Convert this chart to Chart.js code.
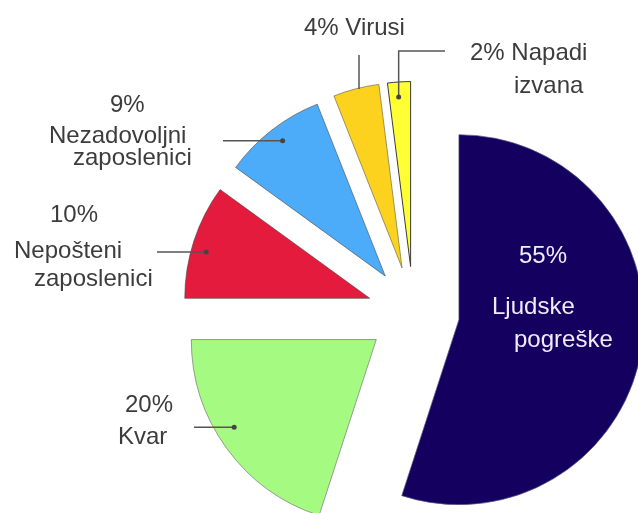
<!DOCTYPE html>
<html>
<head>
<meta charset="utf-8">
<title>Uzroci gubitka podataka</title>
<script src="https://cdn.jsdelivr.net/npm/chart.js@4/dist/chart.umd.min.js"></script>
<style>
  html, body { margin: 0; padding: 0; background: #fff; overflow: hidden; }
  #wrap { position: relative; width: 638px; height: 513px; }
</style>
</head>
<body>
<div id="wrap"><canvas id="chart" width="638" height="513"></canvas></div>
<script>
// Values
const categories = ['Ljudske pogreške', 'Kvar', 'Nepošteni zaposlenici', 'Nezadovoljni zaposlenici', 'Virusi', 'Napadi izvana'];
const shares = [55, 20, 10, 9, 4, 2];
const sliceColors = ['#14005f', '#a5fa82', '#e41b3c', '#4dacf9', '#fdd21f', '#ffff33'];
const edgeColors = ['rgba(90,90,130,0.7)', 'rgba(120,120,120,0.7)', 'rgba(70,70,70,0.6)', 'rgba(70,70,70,0.6)', 'rgba(90,90,60,0.6)', '#3a3a3a'];

// how each label is broken into lines (word 0 is the percentage)
const lineGroups = [[[0], [1], [2]], [[0], [1]], [[0], [1], [2]], [[0], [1], [2]], [[0, 1]], [[0, 1], [2]]];

const EXPLODE = 46;
const RADIUS = 185;

// label placement: text line origins and leader lines (dot inside the slice -> label)
const callouts = [
    { lines: [[519, 263], [492, 314], [514, 347]], color: '#efecff' },
    { lines: [[125, 412], [118, 444]], leader: { at: 0.56, r: 167, path: [['h', 194]], dot: true } },
    { lines: [[50, 222], [14, 258], [34, 286]], leader: { at: 0.44, r: 170, path: [['h', 157]], dot: true } },
    { lines: [[110, 112], [49, 143], [73, 165]], leader: { at: 0.52, r: 170, path: [['h', 223]], dot: true } },
    { lines: [[304, 35]], leader: { at: 0.56, r: 184, path: [['v', 55]], dot: false } },
    { lines: [[470, 60], [514, 93]], leader: { at: 0.44, r: 170, path: [['v', 51], ['h', 445]], dot: true } }
];

// push every slice out along its middle angle
const explodePlugin = {
    id: 'explode',
    afterDatasetsUpdate(chart) {
        chart.getDatasetMeta(0).data.forEach(arc => {
            const mid = (arc.startAngle + arc.endAngle) / 2;
            arc.x += Math.cos(mid) * EXPLODE;
            arc.y += Math.sin(mid) * EXPLODE;
        });
    }
};

const calloutPlugin = {
    id: 'callouts',
    afterDatasetsDraw(chart) {
        const ctx = chart.ctx;
        const arcs = chart.getDatasetMeta(0).data;
        ctx.save();
        ctx.font = '24px "Liberation Sans", Arial, sans-serif';
        ctx.textAlign = 'left';
        ctx.textBaseline = 'alphabetic';

        callouts.forEach((c, i) => {
            const arc = arcs[i];
            if (c.leader) {
                const a = arc.startAngle + (arc.endAngle - arc.startAngle) * c.leader.at;
                let x = arc.x + Math.cos(a) * c.leader.r;
                let y = arc.y + Math.sin(a) * c.leader.r;
                const x0 = x, y0 = y;
                ctx.beginPath();
                ctx.moveTo(x, y);
                c.leader.path.forEach(([dir, v]) => {
                    if (dir === 'h') x = v; else y = v;
                    ctx.lineTo(x, y);
                });
                ctx.strokeStyle = '#555';
                ctx.lineWidth = 1.5;
                ctx.stroke();
                if (c.leader.dot) {
                    ctx.beginPath();
                    ctx.arc(x0, y0, 2.5, 0, Math.PI * 2);
                    ctx.fillStyle = '#444';
                    ctx.fill();
                }
            }

            const words = [shares[i] + '%', ...categories[i].split(' ')];
            ctx.fillStyle = c.color || '#3c3c3c';
            lineGroups[i].forEach((group, k) => {
                const text = group.map(w => words[w]).join(' ');
                ctx.fillText(text, c.lines[k][0], c.lines[k][1]);
            });
        });
        ctx.restore();
    }
};

new Chart(document.getElementById('chart'), {
    type: 'pie',
    data: {
        labels: categories,
        datasets: [{
            data: shares,
            backgroundColor: sliceColors,
            borderColor: edgeColors,
            borderWidth: 1,
            radius: RADIUS,
            clip: false
        }]
    },
    options: {
        responsive: false,
        animation: false,
        events: [],
        layout: { padding: { left: 189, top: 112, right: 0, bottom: 0 } },
        plugins: {
            legend: { display: false },
            tooltip: { enabled: false }
        }
    },
    plugins: [explodePlugin, calloutPlugin]
});
</script>
</body>
</html>
